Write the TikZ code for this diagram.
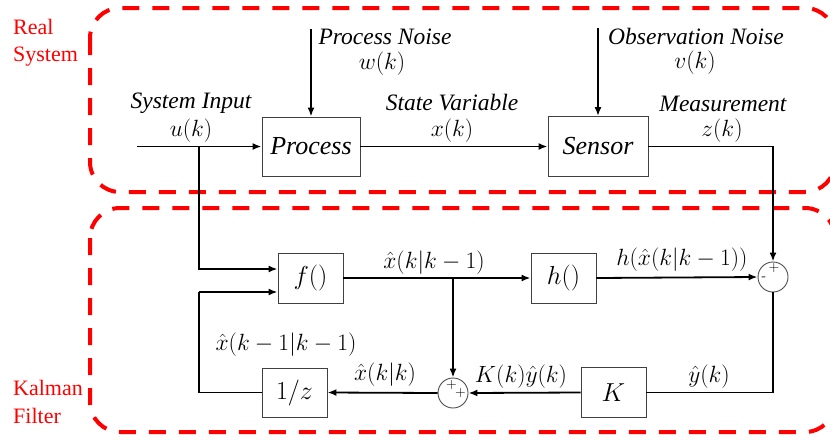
\documentclass[tikz,border=0pt]{standalone}
\usepackage{fix-cm}
\usepackage{fontspec}
\usetikzlibrary{arrows.meta}
\newfontfamily\redserif{Liberation Serif}
\newcommand{\lblsize}{\fontsize{23.5}{27}\selectfont}
\newcommand{\blksize}{\fontsize{26}{30}\selectfont}
\newcommand{\itl}[1]{{\redserif\itshape #1}}
\begin{document}
\begin{tikzpicture}[x=1pt,y=-1pt,
  blk/.style={draw=black!75, line width=0.9pt, inner sep=0pt, font=\blksize},
  sumc/.style={circle, draw=black!70, line width=0.9pt, minimum size=30pt, inner sep=0pt},
  sig/.style={line width=1.8pt, -{Latex[length=9pt,width=7pt]}},
  wire/.style={line width=1.8pt},
  lbl/.style={font=\lblsize, inner sep=0pt},
  redlbl/.style={font=\redserif\fontsize{22}{26}\selectfont, text=red, inner sep=0pt, anchor=base west},
  region/.style={draw=red, line width=4pt, dash pattern=on 17pt off 13pt, rounded corners=30pt},
  sgn/.style={font=\sffamily\fontsize{14}{14}\selectfont, inner sep=0pt}
]
\clip (0,0) rectangle (830,437);
% regions
\draw[region] (90,8) rectangle (835,192);
\draw[region] (90,208) rectangle (835,432);
\node[redlbl] (rl1) at (13,34.5) {Real};
\node[redlbl] (rl2) at (13,61.5) {System};
\node[redlbl] (kl1) at (13,395) {Kalman};
\node[redlbl] (kl2) at (13,423) {Filter};
% blocks
\node[blk, minimum width=98pt, minimum height=59pt] (proc) at (311,146.5) {\itl{Process}};
\node[blk, minimum width=100pt, minimum height=60pt] (sens) at (598,146.5) {\itl{Sensor}};
\node[blk, minimum width=65pt, minimum height=50pt] (f) at (310.5,278) {$f()$};
\node[blk, minimum width=65pt, minimum height=50pt] (h) at (563.5,278) {$h()$};
\node[blk, minimum width=65pt, minimum height=49pt] (z) at (294.5,392.5) {$1/z$};
\node[blk, minimum width=65pt, minimum height=50pt] (K) at (613.5,392.5) {$K$};
\node[sumc] (s1) at (773,277) {};
\node[sumc] (s2) at (453,393) {};
\node[sgn] (s1p) at (774,268.5) {+};
\node[sgn] (s1m) at (764,279) {-};
\node[sgn] (s2p1) at (451.5,385) {+};
\node[sgn] (s2p2) at (460.5,392.5) {+};
% coordinates
\coordinate (uin) at (137,146.5);
\coordinate (br1) at (199,146.5);
\coordinate (fin1) at ([yshift=9pt]f.west);
\coordinate (fin2) at ([yshift=-14pt]f.west);
\coordinate (fb) at (199,292);
\coordinate (pn) at (311,29);
\coordinate (on) at (598,28);
\coordinate (br2) at (s2 |- f.east);
% connectors
\draw[sig] (uin) -- (proc.west);
\draw[sig] (br1) |- (fin1);
\draw[sig] (pn) -- (proc.north);
\draw[sig] (on) -- (sens.north);
\draw[sig] (proc.east) -- (sens.west);
\draw[sig] (sens.east) -| (s1.north);
\draw[sig] (f.east) -- (h.west);
\draw[sig] (br2) -- (s2.north);
\draw[sig] (h.east) -- (s1.west);
\draw[wire] (s1.south) |- (K.east);
\draw[sig] (K.west) -- (s2.east);
\draw[sig] (s2.west) -- (z.east);
\draw[wire] (z.west) -| (fb);
\draw[sig] (fb) -- (fin2);
% labels
\node[lbl] (t1) at (191,103) {\itl{System Input}};
\node[lbl] (t1b) at (191,131) {$u(k)$};
\node[lbl] (t2) at (385,37) {\itl{Process Noise}};
\node[lbl] (t2b) at (382,64) {$w(k)$};
\node[lbl] (t3) at (452,103) {\itl{State Variable}};
\node[lbl] (t3b) at (452,131) {$x(k)$};
\node[lbl] (t4) at (696,36) {\itl{Observation Noise}};
\node[lbl] (t4b) at (695,63) {$v(k)$};
\node[lbl] (t5) at (723,104) {\itl{Measurement}};
\node[lbl] (t5b) at (722,131) {$z(k)$};
\node[lbl] (t6) at (434,263) {$\hat{x}(k|k-1)$};
\node[lbl] (t7) at (682,260) {$h(\hat{x}(k|k-1))$};
\node[lbl] (t8) at (286,345) {$\hat{x}(k-1|k-1)$};
\node[lbl] (t9) at (385,375) {$\hat{x}(k|k)$};
\node[lbl] (t10) at (521,377) {$K(k)\hat{y}(k)$};
\node[lbl] (t11) at (709,377) {$\hat{y}(k)$};
\end{tikzpicture}
\end{document}
